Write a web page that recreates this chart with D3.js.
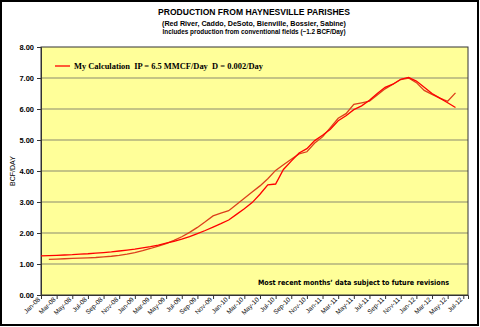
<!DOCTYPE html>
<html><head><meta charset="utf-8">
<script src="https://cdn.jsdelivr.net/npm/d3@7"></script>
<style>body{margin:0;background:#fff}svg{display:block}</style>
</head><body>
<script>
// ---- data ----
const months = ["Jan-08","Feb-08","Mar-08","Apr-08","May-08","Jun-08","Jul-08","Aug-08","Sep-08","Oct-08","Nov-08","Dec-08",
"Jan-09","Feb-09","Mar-09","Apr-09","May-09","Jun-09","Jul-09","Aug-09","Sep-09","Oct-09","Nov-09","Dec-09",
"Jan-10","Feb-10","Mar-10","Apr-10","May-10","Jun-10","Jul-10","Aug-10","Sep-10","Oct-10","Nov-10","Dec-10",
"Jan-11","Feb-11","Mar-11","Apr-11","May-11","Jun-11","Jul-11","Aug-11","Sep-11","Oct-11","Nov-11","Dec-11",
"Jan-12","Feb-12","Mar-12","Apr-12","May-12","Jun-12","Jul-12"];
const calcValues = [1.26,1.27,1.28,1.29,1.30,1.32,1.33,1.35,1.37,1.39,1.42,1.45,
1.48,1.52,1.56,1.61,1.67,1.73,1.80,1.88,1.98,2.08,2.19,2.30,
2.42,2.60,2.78,2.98,3.25,3.55,3.58,4.05,4.32,4.58,4.72,4.98,
5.15,5.35,5.62,5.78,5.98,6.10,6.28,6.50,6.70,6.80,6.96,7.02,
6.90,6.70,6.50,6.35,6.20,6.05];
const actualValues = [null,1.15,1.16,1.17,1.18,1.19,1.20,1.21,1.23,1.25,1.28,1.32,
1.37,1.43,1.50,1.58,1.66,1.76,1.88,2.02,2.18,2.36,2.55,2.64,
2.72,2.92,3.12,3.32,3.52,3.75,4.02,4.20,4.38,4.55,4.62,4.90,
5.10,5.40,5.70,5.85,6.15,6.20,6.25,6.45,6.65,6.80,6.95,7.00,
6.85,6.60,6.47,6.35,6.25,6.52];
const yTicks = [0,1,2,3,4,5,6,7,8];
const titleLines = ["PRODUCTION FROM HAYNESVILLE PARISHES","(Red River, Caddo, DeSoto, Bienville, Bossier, Sabine)","Includes production from conventional fields (~1.2 BCF/Day)"];
const legendLabel = "My Calculation  IP = 6.5 MMCF/Day  D = 0.002/Day";
const note = "Most recent months\u2019 data subject to future revisions";

// ---- layout ----
const W=480,H=327, L=41, R=468, T=47, B=295;
const svg=d3.select("body").append("svg").attr("width",W).attr("height",H);
svg.append("rect").attr("x",1).attr("y",1).attr("width",W-3).attr("height",H-3).attr("fill","#fff").attr("stroke","#000").attr("stroke-width",2);

const x=d3.scaleLinear().domain([0,54.6]).range([L,R]);
const y=d3.scaleLinear().domain([0,8]).range([B,T]);

svg.append("rect").attr("x",L).attr("y",T).attr("width",R-L).attr("height",B-T).attr("fill","#FFFF99");
svg.append("g").selectAll("line").data(yTicks.filter(d=>d>0&&d<8)).join("line")
 .attr("x1",L).attr("x2",R).attr("y1",d=>y(d)).attr("y2",d=>y(d)).attr("stroke","#8a8a70").attr("stroke-width",1.2);
svg.append("rect").attr("x",L).attr("y",T).attr("width",R-L).attr("height",B-T).attr("fill","none").attr("stroke","#333").attr("stroke-width",1);

const yAxis=svg.append("g").attr("transform",`translate(${L},0)`)
 .call(d3.axisLeft(y).tickValues(yTicks).tickFormat(d3.format(".2f")).tickSize(4).tickPadding(3));
yAxis.select(".domain").attr("stroke","#333");
yAxis.selectAll("line").attr("stroke","#333");
yAxis.selectAll("text").attr("font-family","Arial, 'Liberation Sans', sans-serif").attr("font-size","7.5px").attr("font-weight","bold").attr("fill","#000");

const xt=d3.range(0,55,2);
const xAxis=svg.append("g").attr("transform",`translate(0,${B})`)
 .call(d3.axisBottom(x).tickValues(xt).tickFormat(i=>months[i]).tickSize(4));
xAxis.select(".domain").attr("stroke","#333");
xAxis.selectAll("line").attr("stroke","#333");
xAxis.selectAll("text").attr("font-family","Arial, 'Liberation Sans', sans-serif").attr("font-size","6.5px").attr("fill","#000")
 .attr("text-anchor","end").attr("dy",0).attr("transform","translate(-1,5) rotate(-45)").attr("y",0).attr("x",0);

// lines
const line=d3.line().defined(d=>d.v!=null).x(d=>x(d.i)).y(d=>y(d.v));
svg.append("path").datum(actualValues.map((v,i)=>({i,v}))).attr("d",line).attr("fill","none").attr("stroke","#DC3F1C").attr("stroke-width",1.3);
svg.append("path").datum(calcValues.map((v,i)=>({i,v}))).attr("d",line).attr("fill","none").attr("stroke","#FF0000").attr("stroke-width",1.3);

// titles
const tf="Arial, 'Liberation Sans', sans-serif";
svg.append("text").attr("x",254).attr("y",15).attr("text-anchor","middle").attr("font-family",tf).attr("font-weight","bold").attr("font-size","9px").attr("textLength",192).attr("lengthAdjust","spacingAndGlyphs").text(titleLines[0]);
svg.append("text").attr("x",254).attr("y",25.5).attr("text-anchor","middle").attr("font-family",tf).attr("font-weight","bold").attr("font-size","7px").attr("textLength",184).attr("lengthAdjust","spacingAndGlyphs").text(titleLines[1]);
svg.append("text").attr("x",254).attr("y",34).attr("text-anchor","middle").attr("font-family",tf).attr("font-weight","bold").attr("font-size","6.3px").attr("textLength",183).attr("lengthAdjust","spacingAndGlyphs").text(titleLines[2]);

// y label
svg.append("text").attr("transform","translate(15,171) rotate(-90)").attr("text-anchor","middle").attr("font-family",tf).attr("font-size","7px").text("BCF/DAY");

// legend
svg.append("line").attr("x1",55).attr("x2",70).attr("y1",66).attr("y2",66).attr("stroke","#FF0000").attr("stroke-width",1.3);
svg.append("text").attr("x",74).attr("y",69).attr("xml:space","preserve").style("white-space","pre").attr("font-family","'Liberation Serif','Times New Roman',serif").attr("font-weight","bold").attr("font-size","8.3px").attr("textLength",189).attr("lengthAdjust","spacingAndGlyphs").text(legendLabel);

// note
svg.append("text").attr("x",258).attr("y",285).attr("font-family","'DejaVu Sans', Verdana, sans-serif").attr("font-weight","bold").attr("font-size","7.2px").attr("textLength",191).attr("lengthAdjust","spacingAndGlyphs").text(note);
</script>
</body></html>
